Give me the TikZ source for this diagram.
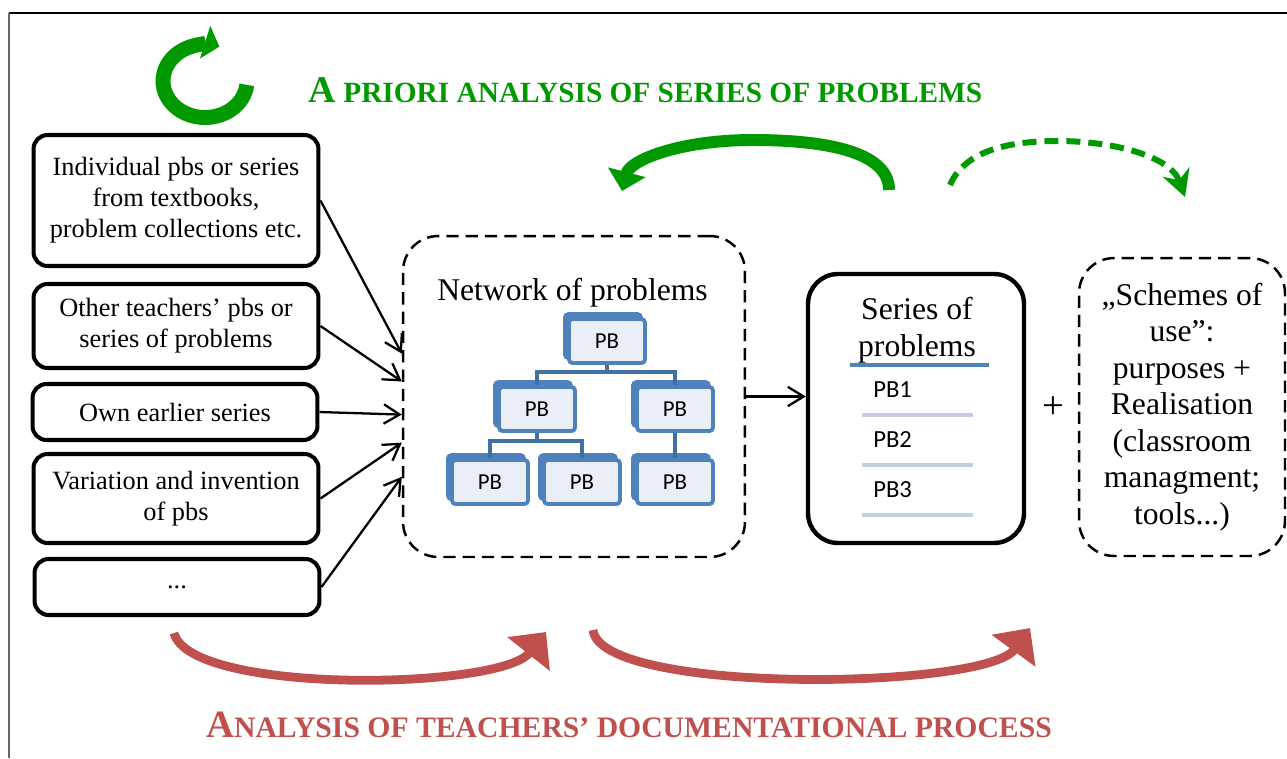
\documentclass[tikz,border=0pt]{standalone}
\usepackage{fontspec}
\setmainfont{Liberation Serif}
\newfontfamily\pbfont{Carlito}
\usetikzlibrary{arrows.meta,shadows}
\definecolor{apgreen}{RGB}{0,153,0}
\definecolor{docred}{RGB}{192,80,77}
\definecolor{pbblue}{RGB}{79,129,189}
\definecolor{pbdark}{RGB}{65,113,163}
\definecolor{pblight}{RGB}{234,239,247}
\definecolor{pbgrey}{RGB}{198,207,226}
\begin{document}
\begin{tikzpicture}[
        x = 0.02cm, y = -0.02cm,
        src/.style = {draw, line width=2.3pt, rounded corners=8pt, minimum width=5.7cm, align=center, font=\fontsize{15}{17.6}\selectfont},
        dashbox/.style = {draw, line width=1.4pt, dash pattern=on 7pt off 4pt, rounded corners=20pt},
        pb/.style = {draw=pbblue, line width=2.2pt, fill=pblight, rounded corners=2pt, minimum width=1.52cm, minimum height=0.88cm, font=\pbfont\fontsize{13}{14}\selectfont,
          general shadow={fill=pbblue, draw=pbblue, shadow xshift=-2.3pt, shadow yshift=2.8pt}},
        treeline/.style = {draw=pbdark, line width=2.3pt},
        feed/.style = {draw, line width=1.3pt, -{Straight Barb[length=9pt,width=11pt]}},
        big/.style = {font=\fontsize{18}{20.8}\selectfont, align=center, inner sep=0pt},
        title/.style = {font=\bfseries\fontsize{16.7}{20}\selectfont, anchor=base},
      ]
        \useasboundingbox (0,0) rectangle (1287,758);
        \draw[line width=1.1pt] (9,13) -- (1287,13);
        \draw[black!60, line width=0.8pt] (9,13) -- (9,758);

        \node[src, minimum height=2.62cm] (src1) at (176,200.5) {Individual pbs or series\\from textbooks,\\problem collections etc.};
        \node[src, minimum height=1.68cm] (src2) at (176,326) {Other teachers’ pbs or\\series of problems};
        \node[src, minimum height=1.12cm] (src3) at (175,412) {Own earlier series};
        \node[src, minimum height=1.78cm] (src4) at (176,498.5) {Variation and invention\\of pbs};
        \node[src, minimum height=1.12cm] (src5) at (177,587) {...};

        \node[dashbox, minimum width=6.84cm, minimum height=6.42cm] (net) at (574,396.5) {};
        \node[anchor=base, font=\fontsize{18}{20}\selectfont] (nettitle) at (572.5,300) {Network of problems};
        \node[pb] (pb0) at (607,341) {PB};
        \node[pb] (pb1) at (537,409) {PB};
        \node[pb] (pb2) at (675,409) {PB};
        \node[pb] (pb3) at (490,482) {PB};
        \node[pb] (pb4) at (582,482) {PB};
        \node[pb] (pb5) at (675,482) {PB};
        \draw[treeline] (pb0.south) -- ++(0,7) -| (pb1.north);
        \draw[treeline] (pb0.south) -- ++(0,7) -| (pb2.north);
        \draw[treeline] (pb1.south) -- ++(0,8) -| (pb3.north);
        \draw[treeline] (pb1.south) -- ++(0,8) -| (pb4.north);
        \draw[treeline] (pb2.south) -- (pb5.north);

        \node[draw, line width=2.5pt, rounded corners=17pt, minimum width=4.32cm, minimum height=5.38cm] (ser) at (916,408.5) {};
        \node[big] (sertitle) at (917,330) {Series of\\problems};
        \draw[pbblue, line width=2.8pt] (850,365) -- (989,365);
        \foreach \i/\y in {1/390, 2/440, 3/490} {
          \node[anchor=west, inner sep=0pt, font=\pbfont\fontsize{14}{16}\selectfont] (item\i) at (873,\y) {PB\i};
          \draw[pbgrey, line width=2.8pt] (862,\y+25) -- (973,\y+25);
        }
        \node[font=\fontsize{22}{24}\selectfont] (plus) at (1053,408) {+};
        \node[dashbox, big, minimum width=4.12cm, minimum height=5.96cm] (use) at (1182,407) {„Schemes of\\use”:\\purposes +\\Realisation\\(classroom\\managment;\\tools...)};

        \draw[feed] (src1.east) -- (net.166);
        \draw[feed] (src2.east) -- (net.175);
        \draw[feed] (src3.east) -- (net.186);
        \draw[feed] (src4.east) -- (net.195);
        \draw[feed] (src5.east) -- (net.205);
        \draw[feed] (net.east) -- (net.east -| ser.west);

        \draw[apgreen, line width=8.5pt, -{Triangle[length=8.5pt,width=19pt]}] (205,81) ++(6:42 and 36.5) arc[start angle=6, end angle=290, x radius=42, y radius=36.5];
        \node[title, apgreen] (aptitle) at (645.5,102) {{\fontsize{21.5}{24}\selectfont A} PRIORI ANALYSIS OF SERIES OF PROBLEMS};
        \draw[apgreen, line width=6.8pt, -{Triangle[length=11pt,width=21.5pt]}] (889,190) .. controls (889,150) and (820,140) .. (753,140) .. controls (680,140) and (630,160) .. (622,191);
        \draw[apgreen, line width=3.4pt, dash pattern=on 8pt off 4.5pt, -{Stealth[length=15pt,width=16pt]}] (950,185) .. controls (965,150) and (1010,141) .. (1058,141) .. controls (1110,141) and (1170,155) .. (1185,197);

        \draw[docred, line width=5pt, -{Triangle[length=16pt,width=30pt]}] (174,633) .. controls (190,695) and (500,690) .. (546,632);
        \draw[docred, line width=5pt, -{Triangle[length=16pt,width=30pt]}] (593,630) .. controls (600,695) and (985,690) .. (1030,628);
        \node[title, docred, font=\bfseries\fontsize{16.9}{20}\selectfont] (doctitle) at (629,737) {{\fontsize{22}{24}\selectfont A}NALYSIS OF TEACHERS’ DOCUMENTATIONAL PROCESS};
      \end{tikzpicture}
\end{document}
